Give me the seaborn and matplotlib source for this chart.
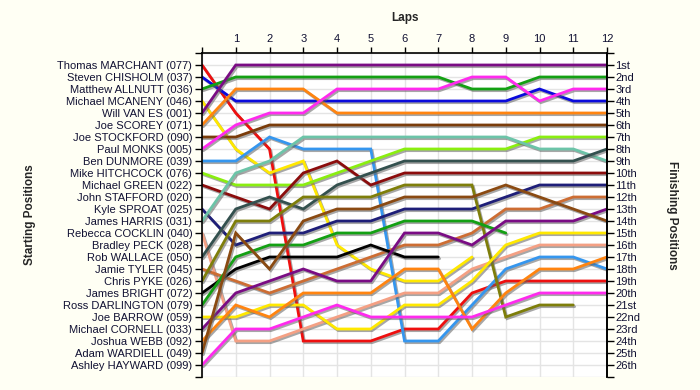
import numpy as np
import pandas as pd
import matplotlib
matplotlib.use("Agg")
import matplotlib.pyplot as plt
import matplotlib.patheffects as pe
import seaborn as sns

nan = np.nan
laps = list(range(13))

drivers = [
    "Thomas MARCHANT (077)", "Steven CHISHOLM (037)", "Matthew ALLNUTT (036)",
    "Michael MCANENY (046)", "Will VAN ES (001)", "Joe SCOREY (071)",
    "Joe STOCKFORD (090)", "Paul MONKS (005)", "Ben DUNMORE (039)",
    "Mike HITCHCOCK (076)", "Michael GREEN (022)", "John STAFFORD (020)",
    "Kyle SPROAT (025)", "James HARRIS (031)", "Rebecca COCKLIN (040)",
    "Bradley PECK (028)", "Rob WALLACE (050)", "Jamie TYLER (045)",
    "Chris PYKE (026)", "James BRIGHT (072)", "Ross DARLINGTON (079)",
    "Joe BARROW (059)", "Michael CORNELL (033)", "Joshua WEBB (092)",
    "Adam WARDIELL (049)", "Ashley HAYWARD (099)",
]

thomas_marchant = [1, 5, 8, 24, 24, 24, 23, 23, 20, 19, 19, 19, 19]
steven_chisholm = [2, 4, 4, 4, 4, 4, 4, 4, 4, 4, 3, 4, 4]
matthew_allnutt = [3, 2, 2, 2, 2, 2, 2, 2, 3, 3, 2, 2, 2]
michael_mcaneny = [4, 8, 10, 9, 16, 18, 19, 19, 17, nan, nan, nan, nan]
will_van_es = [5, 1, 1, 1, 1, 1, 1, 1, 1, 1, 1, 1, 1]
joe_scorey = [6, 3, 3, 3, 5, 5, 5, 5, 5, 5, 5, 5, 5]
joe_stockford = [7, 7, 6, 6, 6, 6, 6, 6, 6, 6, 6, 6, 6]
paul_monks = [8, 6, 5, 5, 3, 3, 3, 3, 2, 2, 4, 3, 3]
ben_dunmore = [9, 9, 7, 8, 8, 8, 24, 24, 21, 18, 17, 17, 18]
mike_hitchcock = [10, 11, 11, 11, 10, 9, 8, 8, 8, 8, 7, 7, 7]
michael_green = [11, 12, 13, 10, 9, 11, 10, 10, 10, 10, 10, 10, 10]
john_stafford = [12, nan, nan, nan, nan, nan, nan, nan, nan, nan, nan, nan, nan]
kyle_sproat = [13, 16, 15, 15, 14, 14, 13, 13, 13, 12, 11, 11, 11]
james_harris = [14, 10, 9, 7, 7, 7, 7, 7, 7, 7, 8, 8, 9]
rebecca_cocklin = [15, 24, 24, 23, 22, 21, 20, 20, 18, 17, 16, 16, 16]
bradley_peck = [16, nan, nan, nan, nan, nan, nan, nan, nan, nan, nan, nan, nan]
rob_wallace = [17, 13, 12, 13, 11, 10, 9, 9, 9, 9, 9, 9, 8]
jamie_tyler = [18, 19, 20, 19, 18, 17, 16, 16, 15, 13, 13, 12, 12]
chris_pyke = [19, 14, 14, 12, 12, 12, 11, 11, 11, 22, 21, 21, nan]
james_bright = [20, 18, 17, 17, 17, 16, 17, 17, nan, nan, nan, nan, nan]
ross_darlington = [21, 17, 16, 16, 15, 15, 14, 14, 14, 15, nan, nan, nan]
joe_barrow = [22, 22, 21, 21, 23, 23, 21, 21, 19, 16, 15, 15, 15]
michael_cornell = [23, 20, 19, 18, 19, 19, 15, 15, 16, 14, 14, 14, 13]
joshua_webb = [24, 21, 22, 20, 20, 20, 18, 18, 23, 20, 18, 18, 17]
adam_wardiell = [25, 15, 18, 14, 13, 13, 12, 12, 12, 11, 12, 13, 14]
ashley_hayward = [26, 23, 23, 22, 21, 22, 22, 22, 22, 21, 20, 20, 20]

positions = [
    thomas_marchant, steven_chisholm, matthew_allnutt, michael_mcaneny,
    will_van_es, joe_scorey, joe_stockford, paul_monks, ben_dunmore,
    mike_hitchcock, michael_green, john_stafford, kyle_sproat, james_harris,
    rebecca_cocklin, bradley_peck, rob_wallace, jamie_tyler, chris_pyke,
    james_bright, ross_darlington, joe_barrow, michael_cornell, joshua_webb,
    adam_wardiell, ashley_hayward,
]

colors = [
    "#EE0F0F", "#0A0ADC", "#13A013", "#FFE800", "#7A0C84", "#FF8410",
    "#7A3C0A", "#FF2AEE", "#3596EE", "#8AEE10", "#8B0C0C", "#888888",
    "#1E1E78", "#6CC4A8", "#F4A084", "#888888", "#33504E", "#CD6D33",
    "#7E7E0A", "#000000", "#13A013", "#FFE800", "#7A0C84", "#FF8410",
    "#8A4A12", "#FF2AEE",
]

finish_labels = ["1st", "2nd", "3rd"] + [f"{i}th" for i in range(4, 21)] + \
    ["21st", "22nd", "23rd", "24th", "25th", "26th"]

rows = []
for d, p in zip(drivers, positions):
    for lap, v in zip(laps, p):
        rows.append({"driver": d, "lap": lap, "pos": v})
df = pd.DataFrame(rows)

sns.set_theme(style="white")
plt.rcParams["font.family"] = ["Liberation Sans", "DejaVu Sans"]

fig = plt.figure(figsize=(7, 3.9), dpi=100)
fig.patch.set_facecolor("#FFFFF4")
ax = fig.add_axes([202 / 700, 1 - 377 / 390, 405 / 700, 324 / 390])
ax.set_facecolor("white")

sns.lineplot(data=df, x="lap", y="pos", hue="driver", hue_order=drivers,
             palette=dict(zip(drivers, colors)), estimator=None, legend=False,
             linewidth=2.0, ax=ax)
for ln in ax.lines:
    ln.set_path_effects([pe.SimpleLineShadow(offset=(1.0, -1.2), shadow_color="#606060", alpha=0.55),
                         pe.Normal()])
    ln.set_solid_joinstyle("miter")

ax.set_xlim(0, 12)
ax.set_ylim(27, 0)
ax.set_xticks(laps)
ax.set_xticklabels([""] + [str(i) for i in laps[1:]])
ax.set_yticks(range(0, 28))
ax.set_yticklabels([""] + drivers + [""])
ax.xaxis.tick_top()
ax.tick_params(axis="x", which="both", top=True, bottom=False, length=4, width=1,
               color="black", labelsize=8, pad=2.5, direction="out")
ax.tick_params(axis="y", left=True, length=5, width=1, color="black",
               labelsize=8, pad=2, direction="out")
for lab in ax.get_yticklabels() + ax.get_xticklabels():
    lab.set_color("#111133")
ax.grid(True, color="#E4E4E4", linewidth=1)
ax.set_axisbelow(True)
for s in ["top", "left", "right"]:
    ax.spines[s].set_visible(True)
    ax.spines[s].set_color("black")
    ax.spines[s].set_linewidth(1.2)
ax.spines["bottom"].set_visible(False)
ax.set_xlabel("")
ax.set_ylabel("")

ax2 = ax.twinx()
ax2.set_ylim(27, 0)
ax2.set_yticks(range(0, 28))
ax2.set_yticklabels([""] + finish_labels + [""])
ax2.tick_params(axis="y", right=True, length=5, width=1, color="black",
                labelsize=8, pad=1, direction="out")
for lab in ax2.get_yticklabels():
    lab.set_color("#111133")
for s in ["top", "left", "bottom"]:
    ax2.spines[s].set_visible(False)
ax2.spines["right"].set_color("black")
ax2.spines["right"].set_linewidth(1.2)
ax2.grid(False)

fig.text(405 / 700, 1 - 18 / 390, "Laps", ha="center", va="center",
         fontsize=8.5, fontweight="bold")
fig.text(30 / 700, 1 - 215 / 390, "Starting Positions", ha="center", va="center",
         rotation=90, fontsize=8.5, fontweight="bold")
fig.text(672 / 700, 1 - 215 / 390, "Finishing Positions", ha="center", va="center",
         rotation=270, fontsize=8.5, fontweight="bold")

fig.savefig("out.png", dpi=100, facecolor=fig.get_facecolor())
